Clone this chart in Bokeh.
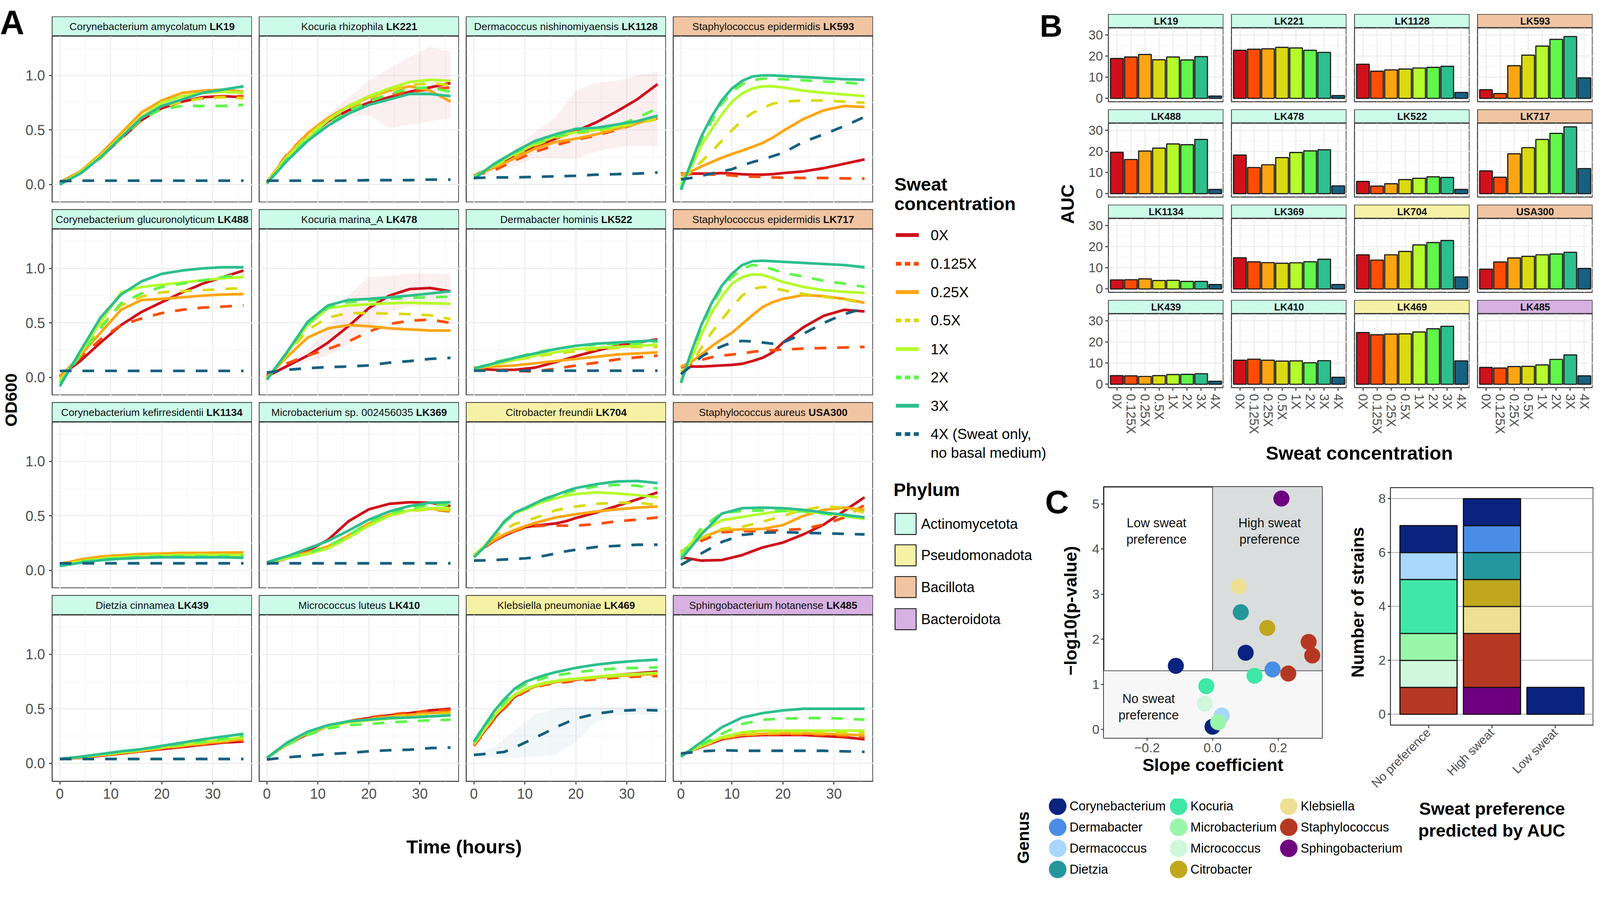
import math
from bokeh.plotting import figure
from bokeh.layouts import row, column
from bokeh.models import (Range1d, FactorRange, LinearAxis, CategoricalAxis, Grid,
                          FixedTicker, CategoricalTicker, BoxAnnotation, Span, Spacer,
                          CustomJSTickFormatter)
from bokeh.core.properties import value
from bokeh.embed import file_html
from bokeh.resources import INLINE

FONT = "Liberation Sans"
S = 0.9795          # global pixel scale (design units -> css px)

# ------------------------------------------------------------------ data
TIME_H = [0, 4, 8, 12, 16, 20, 24, 28, 32, 36]
TIME_FINE = [0, 2, 4, 6, 8, 10, 12, 14, 16, 18, 20, 24, 28, 32, 36]
CONC_LEVELS = ["0X", "0.125X", "0.25X", "0.5X", "1X", "2X", "3X", "4X"]
CONC_COLORS = ["#d0111b", "#ff4d04", "#ffa512", "#dada10", "#b4fc2c", "#60f64a", "#2dbf8e", "#176180"]
CONC_DASHED = [False, True, False, True, False, True, False, True]
CONC_LEGEND = ["0X", "0.125X", "0.25X", "0.5X", "1X", "2X", "3X", "4X (Sweat only,"]

PHYLA = ["Actinomycetota", "Pseudomonadota", "Bacillota", "Bacteroidota"]
PHYLUM_COLORS = ["#ccfbea", "#f6f2a5", "#f1c5a1", "#d6b1e2"]

STRAIN_IDS = ["LK19", "LK221", "LK1128", "LK593",
              "LK488", "LK478", "LK522", "LK717",
              "LK1134", "LK369", "LK704", "USA300",
              "LK439", "LK410", "LK469", "LK485"]
SPECIES_NAMES = ["Corynebacterium amycolatum", "Kocuria rhizophila", "Dermacoccus nishinomiyaensis", "Staphylococcus epidermidis",
                 "Corynebacterium glucuronolyticum", "Kocuria marina_A", "Dermabacter hominis", "Staphylococcus epidermidis",
                 "Corynebacterium kefirresidentii", "Microbacterium sp. 002456035", "Citrobacter freundii", "Staphylococcus aureus",
                 "Dietzia cinnamea", "Micrococcus luteus", "Klebsiella pneumoniae", "Sphingobacterium hotanense"]
STRAIN_PHYLUM = ["Actinomycetota", "Actinomycetota", "Actinomycetota", "Bacillota",
                 "Actinomycetota", "Actinomycetota", "Actinomycetota", "Bacillota",
                 "Actinomycetota", "Actinomycetota", "Pseudomonadota", "Bacillota",
                 "Actinomycetota", "Actinomycetota", "Pseudomonadota", "Bacteroidota"]

# OD600 growth curves, rows = 0X, 0.125X, 0.25X, 0.5X, 1X, 2X, 3X, 4X ; columns = TIME_H (or TIME_FINE)
OD_LK19 = [[0.02, 0.11, 0.25, 0.42, 0.59, 0.70, 0.76, 0.80, 0.81, 0.80],
           [0.02, 0.11, 0.25, 0.42, 0.59, 0.70, 0.76, 0.79, 0.81, 0.81],
           [0.02, 0.12, 0.28, 0.47, 0.66, 0.77, 0.84, 0.86, 0.87, 0.85],
           [0.01, 0.10, 0.24, 0.42, 0.60, 0.71, 0.76, 0.79, 0.80, 0.79],
           [0.00, 0.11, 0.26, 0.44, 0.62, 0.75, 0.81, 0.84, 0.85, 0.84],
           [0.01, 0.10, 0.25, 0.43, 0.60, 0.69, 0.72, 0.72, 0.72, 0.73],
           [0.00, 0.10, 0.25, 0.43, 0.61, 0.72, 0.78, 0.84, 0.87, 0.90],
           [0.03, 0.035, 0.035, 0.035, 0.035, 0.035, 0.035, 0.035, 0.035, 0.035]]
OD_LK221 = [[0.02, 0.26, 0.43, 0.58, 0.68, 0.75, 0.80, 0.85, 0.89, 0.93],
            [0.02, 0.28, 0.47, 0.61, 0.71, 0.77, 0.82, 0.85, 0.87, 0.89],
            [0.02, 0.27, 0.47, 0.61, 0.72, 0.80, 0.86, 0.90, 0.86, 0.76],
            [0.02, 0.26, 0.45, 0.60, 0.70, 0.79, 0.86, 0.91, 0.93, 0.91],
            [0.01, 0.25, 0.43, 0.59, 0.72, 0.81, 0.88, 0.94, 0.96, 0.95],
            [0.01, 0.24, 0.42, 0.56, 0.67, 0.76, 0.83, 0.88, 0.89, 0.85],
            [0.01, 0.22, 0.40, 0.54, 0.65, 0.73, 0.78, 0.83, 0.83, 0.81],
            [0.035, 0.035, 0.035, 0.035, 0.035, 0.04, 0.04, 0.04, 0.045, 0.045]]
OD_LK1128 = [[0.08, 0.17, 0.27, 0.35, 0.42, 0.49, 0.57, 0.67, 0.78, 0.92],
             [0.08, 0.13, 0.22, 0.30, 0.36, 0.41, 0.45, 0.50, 0.56, 0.61],
             [0.08, 0.155, 0.24, 0.33, 0.39, 0.42, 0.46, 0.51, 0.56, 0.62],
             [0.07, 0.17, 0.27, 0.36, 0.43, 0.47, 0.49, 0.52, 0.56, 0.60],
             [0.07, 0.18, 0.28, 0.37, 0.44, 0.48, 0.50, 0.53, 0.58, 0.63],
             [0.07, 0.18, 0.29, 0.38, 0.44, 0.48, 0.50, 0.54, 0.61, 0.70],
             [0.05, 0.19, 0.30, 0.40, 0.46, 0.51, 0.52, 0.55, 0.58, 0.63],
             [0.06, 0.065, 0.065, 0.07, 0.075, 0.08, 0.09, 0.095, 0.10, 0.11]]
OD_LK593 = [[0.10, 0.10, 0.10, 0.10, 0.105, 0.10, 0.094, 0.09, 0.09, 0.095, 0.105, 0.12, 0.15, 0.19, 0.23],
            [0.09, 0.095, 0.095, 0.092, 0.09, 0.083, 0.075, 0.072, 0.07, 0.065, 0.062, 0.06, 0.06, 0.056, 0.054],
            [0.09, 0.12, 0.165, 0.205, 0.245, 0.28, 0.31, 0.345, 0.38, 0.43, 0.49, 0.60, 0.68, 0.72, 0.71],
            [0.05, 0.12, 0.21, 0.30, 0.40, 0.495, 0.59, 0.655, 0.70, 0.74, 0.76, 0.77, 0.77, 0.76, 0.75],
            [0.00, 0.16, 0.36, 0.505, 0.64, 0.76, 0.835, 0.88, 0.90, 0.90, 0.89, 0.86, 0.84, 0.825, 0.81],
            [-0.03, 0.18, 0.41, 0.58, 0.74, 0.85, 0.92, 0.955, 0.97, 0.97, 0.965, 0.955, 0.945, 0.935, 0.92],
            [-0.05, 0.20, 0.44, 0.62, 0.77, 0.88, 0.95, 0.99, 1.00, 1.00, 0.995, 0.985, 0.975, 0.965, 0.96],
            [0.047, 0.06, 0.08, 0.10, 0.12, 0.14, 0.175, 0.205, 0.23, 0.26, 0.29, 0.39, 0.46, 0.535, 0.62]]
OD_LK488 = [[0.01, 0.15, 0.32, 0.48, 0.60, 0.69, 0.78, 0.86, 0.92, 0.98],
            [0.01, 0.18, 0.35, 0.48, 0.54, 0.59, 0.62, 0.64, 0.65, 0.66],
            [0.00, 0.20, 0.41, 0.62, 0.71, 0.72, 0.735, 0.75, 0.76, 0.765],
            [-0.03, 0.21, 0.47, 0.66, 0.74, 0.78, 0.79, 0.80, 0.81, 0.82],
            [-0.05, 0.22, 0.51, 0.78, 0.83, 0.85, 0.87, 0.89, 0.91, 0.92],
            [-0.05, 0.20, 0.45, 0.68, 0.77, 0.83, 0.86, 0.89, 0.92, 0.95],
            [-0.08, 0.24, 0.55, 0.76, 0.88, 0.95, 0.98, 1.00, 1.01, 1.01],
            [0.06, 0.06, 0.06, 0.06, 0.06, 0.06, 0.06, 0.06, 0.06, 0.06]]
OD_LK478 = [[0.01, 0.105, 0.20, 0.32, 0.47, 0.635, 0.75, 0.81, 0.82, 0.79],
            [0.02, 0.13, 0.20, 0.26, 0.33, 0.42, 0.49, 0.52, 0.53, 0.50],
            [0.00, 0.19, 0.365, 0.45, 0.48, 0.47, 0.45, 0.44, 0.43, 0.43],
            [-0.01, 0.21, 0.435, 0.55, 0.59, 0.59, 0.585, 0.58, 0.57, 0.535],
            [-0.02, 0.23, 0.48, 0.635, 0.66, 0.67, 0.68, 0.685, 0.68, 0.675],
            [-0.02, 0.23, 0.49, 0.64, 0.69, 0.705, 0.72, 0.73, 0.735, 0.74],
            [-0.02, 0.235, 0.51, 0.66, 0.71, 0.72, 0.735, 0.75, 0.77, 0.79],
            [0.045, 0.07, 0.085, 0.095, 0.10, 0.11, 0.135, 0.15, 0.17, 0.18]]
OD_LK522 = [[0.08, 0.07, 0.07, 0.09, 0.14, 0.195, 0.245, 0.29, 0.32, 0.35],
            [0.08, 0.07, 0.06, 0.055, 0.08, 0.11, 0.135, 0.165, 0.185, 0.20],
            [0.09, 0.10, 0.11, 0.13, 0.15, 0.17, 0.19, 0.21, 0.22, 0.23],
            [0.08, 0.12, 0.16, 0.19, 0.22, 0.24, 0.26, 0.27, 0.28, 0.28],
            [0.08, 0.12, 0.16, 0.20, 0.23, 0.26, 0.27, 0.28, 0.29, 0.30],
            [0.08, 0.14, 0.18, 0.23, 0.26, 0.29, 0.30, 0.31, 0.31, 0.33],
            [0.08, 0.13, 0.18, 0.22, 0.26, 0.29, 0.31, 0.32, 0.33, 0.34],
            [0.062, 0.062, 0.062, 0.062, 0.062, 0.062, 0.062, 0.062, 0.062, 0.062]]
OD_LK717 = [[0.10, 0.10, 0.10, 0.105, 0.11, 0.115, 0.125, 0.15, 0.18, 0.23, 0.32, 0.46, 0.565, 0.62, 0.605],
            [0.09, 0.125, 0.16, 0.185, 0.20, 0.21, 0.22, 0.235, 0.245, 0.25, 0.255, 0.265, 0.27, 0.275, 0.28],
            [0.10, 0.14, 0.21, 0.285, 0.35, 0.41, 0.49, 0.57, 0.645, 0.69, 0.72, 0.755, 0.745, 0.72, 0.685],
            [0.05, 0.13, 0.27, 0.41, 0.53, 0.645, 0.75, 0.81, 0.83, 0.82, 0.80, 0.765, 0.74, 0.715, 0.68],
            [-0.03, 0.17, 0.39, 0.59, 0.74, 0.86, 0.92, 0.945, 0.94, 0.91, 0.875, 0.83, 0.80, 0.785, 0.775],
            [-0.05, 0.22, 0.46, 0.66, 0.815, 0.92, 1.00, 1.03, 1.02, 0.99, 0.96, 0.925, 0.885, 0.86, 0.83],
            [-0.05, 0.23, 0.48, 0.68, 0.84, 0.95, 1.03, 1.065, 1.07, 1.065, 1.06, 1.05, 1.04, 1.03, 1.01],
            [0.03, 0.105, 0.19, 0.245, 0.285, 0.32, 0.335, 0.33, 0.32, 0.31, 0.32, 0.40, 0.50, 0.58, 0.635]]
OD_LK1134 = [[0.06, 0.09, 0.115, 0.13, 0.14, 0.145, 0.15, 0.15, 0.15, 0.15],
             [0.06, 0.09, 0.11, 0.125, 0.135, 0.14, 0.145, 0.145, 0.145, 0.145],
             [0.056, 0.10, 0.127, 0.14, 0.15, 0.155, 0.16, 0.16, 0.163, 0.165],
             [0.05, 0.085, 0.11, 0.125, 0.135, 0.14, 0.14, 0.145, 0.145, 0.145],
             [0.05, 0.08, 0.105, 0.12, 0.13, 0.135, 0.14, 0.14, 0.14, 0.14],
             [0.05, 0.08, 0.10, 0.115, 0.125, 0.13, 0.13, 0.13, 0.13, 0.13],
             [0.04, 0.07, 0.093, 0.107, 0.115, 0.12, 0.12, 0.12, 0.12, 0.115],
             [0.065, 0.065, 0.065, 0.065, 0.065, 0.065, 0.065, 0.065, 0.065, 0.065]]
OD_LK369 = [[0.06, 0.11, 0.18, 0.28, 0.45, 0.56, 0.61, 0.625, 0.62, 0.59],
            [0.07, 0.12, 0.16, 0.22, 0.32, 0.43, 0.51, 0.55, 0.56, 0.54],
            [0.07, 0.12, 0.165, 0.22, 0.32, 0.43, 0.51, 0.55, 0.565, 0.55],
            [0.07, 0.115, 0.155, 0.21, 0.31, 0.42, 0.50, 0.545, 0.56, 0.55],
            [0.07, 0.11, 0.15, 0.20, 0.30, 0.41, 0.50, 0.55, 0.57, 0.57],
            [0.07, 0.12, 0.16, 0.22, 0.32, 0.44, 0.52, 0.57, 0.60, 0.60],
            [0.075, 0.13, 0.20, 0.27, 0.365, 0.465, 0.54, 0.59, 0.62, 0.625],
            [0.065, 0.065, 0.065, 0.065, 0.065, 0.065, 0.065, 0.065, 0.065, 0.065]]
OD_LK704 = [[0.13, 0.21, 0.27, 0.32, 0.36, 0.395, 0.41, 0.42, 0.43, 0.45, 0.48, 0.53, 0.59, 0.65, 0.715],
            [0.13, 0.21, 0.27, 0.32, 0.36, 0.39, 0.405, 0.41, 0.41, 0.41, 0.41, 0.425, 0.45, 0.465, 0.485],
            [0.14, 0.215, 0.28, 0.33, 0.37, 0.405, 0.435, 0.46, 0.485, 0.50, 0.515, 0.54, 0.56, 0.575, 0.585],
            [0.14, 0.22, 0.31, 0.37, 0.425, 0.455, 0.48, 0.515, 0.55, 0.57, 0.585, 0.61, 0.62, 0.62, 0.60],
            [0.13, 0.22, 0.33, 0.44, 0.52, 0.56, 0.60, 0.635, 0.66, 0.685, 0.70, 0.715, 0.705, 0.69, 0.67],
            [0.12, 0.21, 0.33, 0.44, 0.52, 0.565, 0.605, 0.645, 0.675, 0.71, 0.735, 0.77, 0.785, 0.775, 0.75],
            [0.12, 0.21, 0.33, 0.45, 0.53, 0.57, 0.615, 0.66, 0.69, 0.725, 0.755, 0.79, 0.815, 0.82, 0.80],
            [0.09, 0.092, 0.095, 0.10, 0.105, 0.11, 0.12, 0.135, 0.155, 0.175, 0.19, 0.215, 0.225, 0.235, 0.235]]
OD_USA300 = [[0.12, 0.09, 0.095, 0.14, 0.21, 0.255, 0.33, 0.42, 0.545, 0.67],
             [0.16, 0.27, 0.35, 0.36, 0.36, 0.37, 0.38, 0.42, 0.485, 0.60],
             [0.17, 0.30, 0.37, 0.375, 0.38, 0.415, 0.50, 0.555, 0.575, 0.555],
             [0.16, 0.30, 0.38, 0.40, 0.445, 0.50, 0.555, 0.585, 0.575, 0.53],
             [0.15, 0.355, 0.46, 0.49, 0.52, 0.545, 0.54, 0.525, 0.50, 0.47],
             [0.13, 0.39, 0.525, 0.545, 0.55, 0.545, 0.54, 0.52, 0.50, 0.48],
             [0.10, 0.33, 0.52, 0.57, 0.575, 0.57, 0.555, 0.53, 0.51, 0.485],
             [0.05, 0.155, 0.26, 0.325, 0.345, 0.35, 0.345, 0.34, 0.335, 0.33]]
OD_LK439 = [[0.04, 0.05, 0.07, 0.09, 0.11, 0.13, 0.15, 0.17, 0.19, 0.20],
            [0.04, 0.05, 0.07, 0.09, 0.11, 0.135, 0.155, 0.175, 0.195, 0.21],
            [0.04, 0.055, 0.075, 0.095, 0.115, 0.14, 0.16, 0.18, 0.20, 0.22],
            [0.04, 0.055, 0.075, 0.10, 0.12, 0.145, 0.165, 0.19, 0.21, 0.23],
            [0.04, 0.055, 0.08, 0.10, 0.125, 0.15, 0.17, 0.195, 0.215, 0.24],
            [0.04, 0.06, 0.08, 0.105, 0.125, 0.15, 0.175, 0.20, 0.225, 0.25],
            [0.04, 0.06, 0.085, 0.11, 0.13, 0.16, 0.19, 0.22, 0.245, 0.27],
            [0.04, 0.04, 0.04, 0.04, 0.04, 0.04, 0.04, 0.04, 0.04, 0.04]]
OD_LK410 = [[0.05, 0.175, 0.27, 0.34, 0.385, 0.415, 0.44, 0.46, 0.485, 0.50],
            [0.05, 0.17, 0.27, 0.335, 0.385, 0.42, 0.445, 0.465, 0.48, 0.49],
            [0.05, 0.18, 0.28, 0.34, 0.38, 0.405, 0.43, 0.445, 0.46, 0.47],
            [0.05, 0.18, 0.28, 0.34, 0.375, 0.40, 0.42, 0.435, 0.445, 0.455],
            [0.05, 0.18, 0.28, 0.34, 0.375, 0.395, 0.41, 0.42, 0.43, 0.44],
            [0.05, 0.17, 0.26, 0.32, 0.35, 0.36, 0.375, 0.385, 0.395, 0.40],
            [0.05, 0.19, 0.29, 0.35, 0.385, 0.40, 0.415, 0.42, 0.43, 0.44],
            [0.035, 0.055, 0.07, 0.085, 0.095, 0.11, 0.12, 0.125, 0.14, 0.145]]
OD_LK469 = [[0.17, 0.29, 0.415, 0.515, 0.61, 0.665, 0.705, 0.73, 0.745, 0.76, 0.765, 0.79, 0.81, 0.825, 0.84],
            [0.16, 0.28, 0.405, 0.505, 0.60, 0.655, 0.695, 0.72, 0.735, 0.745, 0.755, 0.77, 0.785, 0.795, 0.80],
            [0.17, 0.30, 0.43, 0.53, 0.62, 0.67, 0.705, 0.73, 0.745, 0.76, 0.77, 0.785, 0.80, 0.81, 0.82],
            [0.18, 0.31, 0.435, 0.535, 0.625, 0.675, 0.71, 0.735, 0.75, 0.765, 0.775, 0.79, 0.80, 0.815, 0.825],
            [0.18, 0.31, 0.44, 0.54, 0.63, 0.68, 0.715, 0.74, 0.755, 0.77, 0.775, 0.795, 0.81, 0.82, 0.83],
            [0.19, 0.32, 0.45, 0.56, 0.665, 0.72, 0.755, 0.785, 0.805, 0.82, 0.835, 0.855, 0.87, 0.875, 0.88],
            [0.20, 0.34, 0.48, 0.59, 0.685, 0.745, 0.78, 0.81, 0.835, 0.855, 0.875, 0.905, 0.925, 0.94, 0.95],
            [0.077, 0.085, 0.095, 0.105, 0.145, 0.19, 0.235, 0.28, 0.33, 0.37, 0.41, 0.455, 0.48, 0.49, 0.485]]
OD_LK485 = [[0.08, 0.15, 0.22, 0.25, 0.26, 0.26, 0.26, 0.25, 0.24, 0.22],
            [0.08, 0.15, 0.22, 0.255, 0.265, 0.265, 0.265, 0.26, 0.25, 0.24],
            [0.08, 0.155, 0.23, 0.26, 0.27, 0.275, 0.275, 0.27, 0.265, 0.255],
            [0.08, 0.16, 0.235, 0.27, 0.28, 0.285, 0.285, 0.285, 0.28, 0.28],
            [0.07, 0.16, 0.24, 0.285, 0.30, 0.30, 0.30, 0.30, 0.30, 0.30],
            [0.07, 0.17, 0.27, 0.36, 0.40, 0.41, 0.415, 0.415, 0.41, 0.40],
            [0.06, 0.195, 0.33, 0.42, 0.46, 0.485, 0.50, 0.50, 0.50, 0.50],
            [0.09, 0.11, 0.12, 0.115, 0.115, 0.115, 0.115, 0.115, 0.11, 0.105]]
FINE_STRAINS = ["LK593", "LK717", "LK704", "LK469"]

# confidence ribbons (lower, upper) on TIME_H for the most visible replicate spreads
RIB_LK221_0X = ([0.00, 0.22, 0.38, 0.52, 0.62, 0.64, 0.52, 0.55, 0.58, 0.61],
                [0.04, 0.30, 0.48, 0.64, 0.80, 0.95, 1.06, 1.17, 1.26, 1.22])
RIB_LK1128_0X = ([0.07, 0.12, 0.17, 0.24, 0.24, 0.235, 0.30, 0.34, 0.36, 0.35],
                 [0.09, 0.20, 0.32, 0.48, 0.62, 0.86, 0.93, 0.95, 1.00, 1.03])
RIB_LK478_0X = ([0.00, 0.08, 0.15, 0.20, 0.30, 0.45, 0.60, 0.65, 0.66, 0.62],
                [0.03, 0.13, 0.25, 0.45, 0.75, 0.92, 0.93, 0.95, 0.95, 0.95])
RIB_LK469_4X = ([0.06, 0.05, 0.05, 0.06, 0.08, 0.20, 0.38, 0.44, 0.45, 0.45],
                [0.09, 0.15, 0.30, 0.45, 0.50, 0.52, 0.52, 0.52, 0.52, 0.52])
RIBBONS = {"LK221": [(0, RIB_LK221_0X)], "LK1128": [(0, RIB_LK1128_0X)],
           "LK478": [(0, RIB_LK478_0X)], "LK469": [(7, RIB_LK469_4X)]}

# AUC per sweat concentration (CONC_LEVELS order)
AUC_LK19 = [18.9, 19.6, 20.8, 18.3, 19.6, 18.2, 19.8, 1.1]
AUC_LK221 = [22.8, 23.3, 23.5, 24.2, 23.9, 22.8, 21.8, 1.3]
AUC_LK1128 = [16.2, 12.9, 13.5, 13.9, 14.4, 14.7, 15.2, 2.8]
AUC_LK593 = [4.1, 2.3, 15.5, 20.5, 24.8, 28.0, 29.3, 9.7]
AUC_LK488 = [19.6, 16.2, 20.2, 21.6, 23.6, 23.2, 25.7, 2.0]
AUC_LK478 = [18.3, 12.4, 13.7, 17.1, 19.5, 20.3, 20.8, 3.7]
AUC_LK522 = [5.8, 3.6, 4.7, 6.7, 7.3, 8.0, 7.7, 2.0]
AUC_LK717 = [10.8, 7.8, 18.9, 21.8, 25.7, 28.6, 31.7, 11.9]
AUC_LK1134 = [4.3, 4.4, 4.8, 4.0, 4.1, 3.6, 3.6, 2.1]
AUC_LK369 = [14.8, 12.9, 12.5, 12.2, 12.4, 12.9, 14.1, 2.1]
AUC_LK704 = [16.2, 13.7, 16.2, 17.8, 20.9, 22.0, 23.0, 5.7]
AUC_USA300 = [9.4, 12.8, 14.7, 15.5, 16.2, 16.6, 17.4, 9.7]
AUC_LK439 = [4.1, 4.0, 3.7, 4.1, 4.6, 4.7, 5.0, 1.4]
AUC_LK410 = [11.4, 11.9, 11.4, 11.0, 11.1, 10.2, 11.2, 3.3]
AUC_LK469 = [24.5, 23.5, 23.8, 23.9, 24.8, 26.3, 27.5, 11.1]
AUC_LK485 = [8.0, 7.7, 8.4, 8.5, 9.2, 11.8, 13.9, 4.0]

# Panel C
GENERA = ["Corynebacterium", "Dermabacter", "Dermacoccus", "Dietzia", "Kocuria", "Microbacterium",
          "Micrococcus", "Citrobacter", "Klebsiella", "Staphylococcus", "Sphingobacterium"]
GENUS_COLORS = ["#0a237f", "#4a8de6", "#a9d7fd", "#24979c", "#3fe8a7", "#99f7a9",
                "#cff7dc", "#c0a71e", "#ede095", "#b63822", "#6e0080"]
SC_STRAIN = ["LK19", "LK1128", "LK369", "LK410", "LK221", "LK1134", "LK478", "USA300",
             "LK522", "LK488", "LK717", "LK593", "LK704", "LK439", "LK469", "LK485"]
SC_SLOPE = [0.000, 0.028, 0.017, -0.024, -0.019, -0.112, 0.128, 0.231,
            0.183, 0.101, 0.293, 0.304, 0.167, 0.086, 0.080, 0.210]
SC_NLOGP = [0.06, 0.31, 0.16, 0.57, 0.96, 1.41, 1.19, 1.24,
            1.33, 1.70, 1.94, 1.64, 2.25, 2.60, 3.17, 5.12]
SC_GENUS = ["Corynebacterium", "Dermacoccus", "Microbacterium", "Micrococcus", "Kocuria", "Corynebacterium",
            "Kocuria", "Staphylococcus", "Dermabacter", "Corynebacterium", "Staphylococcus", "Staphylococcus",
            "Citrobacter", "Dietzia", "Klebsiella", "Sphingobacterium"]
P_THRESH = -math.log10(0.05)
PREF_CATS = ["No preference", "High sweat", "Low sweat"]

OD_DATA = dict(zip(STRAIN_IDS, [OD_LK19, OD_LK221, OD_LK1128, OD_LK593, OD_LK488, OD_LK478, OD_LK522, OD_LK717,
                                OD_LK1134, OD_LK369, OD_LK704, OD_USA300, OD_LK439, OD_LK410, OD_LK469, OD_LK485]))
AUC_DATA = dict(zip(STRAIN_IDS, [AUC_LK19, AUC_LK221, AUC_LK1128, AUC_LK593, AUC_LK488, AUC_LK478, AUC_LK522, AUC_LK717,
                                 AUC_LK1134, AUC_LK369, AUC_LK704, AUC_USA300, AUC_LK439, AUC_LK410, AUC_LK469, AUC_LK485]))

# ------------------------------------------------------------------ helpers
HELV_REG = {' ': 278, '(': 333, ')': 333, ',': 278, '-': 333, '.': 278, '_': 556,
            'A': 667, 'B': 667, 'C': 722, 'D': 722, 'E': 667, 'F': 611, 'G': 778, 'H': 722, 'I': 278,
            'J': 500, 'K': 667, 'L': 556, 'M': 833, 'N': 722, 'O': 778, 'P': 667, 'Q': 778, 'R': 722,
            'S': 667, 'T': 611, 'U': 722, 'V': 667, 'W': 944, 'X': 667, 'Y': 667, 'Z': 611,
            'a': 556, 'b': 556, 'c': 500, 'd': 556, 'e': 556, 'f': 278, 'g': 556, 'h': 556, 'i': 222,
            'j': 222, 'k': 500, 'l': 222, 'm': 833, 'n': 556, 'o': 556, 'p': 556, 'q': 556, 'r': 333,
            's': 500, 't': 278, 'u': 556, 'v': 500, 'w': 722, 'x': 500, 'y': 500, 'z': 500}
HELV_BOLD = {'A': 722, 'K': 722, 'L': 611, 'S': 667, 'U': 722, ' ': 278}


def P(v):
    return int(round(v * S))


def FS(v):
    return f"{v * S:.2f}px"


def text_w(s, size, bold=False):
    tot = 0
    for ch in s:
        if ch.isdigit():
            tot += 556
        elif bold:
            tot += HELV_BOLD.get(ch, 611)
        else:
            tot += HELV_REG.get(ch, 556)
    return tot * size / 1000.0


def base_fig(w, h, xr, yr, lb=0, rb=0, tb=0, bb=0):
    p = figure(width=P(w), height=P(h), x_range=xr, y_range=yr, x_axis_type=None, y_axis_type=None,
               title=None, toolbar_location=None, output_backend="svg",
               min_border_left=P(lb), min_border_right=P(rb), min_border_top=P(tb), min_border_bottom=P(bb))
    p.outline_line_color = None
    p.background_fill_color = "white"
    p.border_fill_color = "white"
    return p


def canvas(w, h):
    return base_fig(w, h, Range1d(0, w), Range1d(0, h))


def put_text(p, h, x, y_top, s, size, bold=False, align="left", baseline="middle", angle=0.0,
             color="#000000"):
    p.text(x=[x], y=[h - y_top], text=[s], text_font=value(FONT), text_font_size=FS(size),
           text_font_style="bold" if bold else "normal", text_align=align, text_baseline=baseline,
           angle=angle, text_color=color)


def axis_style(size, tick_out, standoff):
    return dict(axis_line_color=None, major_tick_line_color="#333333", major_tick_line_width=2.5 * S,
                major_tick_out=P(tick_out), major_tick_in=0, minor_tick_line_color=None,
                major_label_text_font=FONT, major_label_text_font_size=FS(size),
                major_label_text_color="#4d4d4d", major_label_standoff=P(standoff))


GRID_STYLE = dict(grid_line_color="#ebebeb", grid_line_width=2.5 * S,
                  minor_grid_line_color="#f3f3f3", minor_grid_line_width=1.5 * S)


def strip_fig(lb, tb, fw, sh, species, strain, fill, size):
    p = base_fig(lb + fw, tb + sh, Range1d(0, fw), Range1d(0, sh), lb=lb, tb=tb)
    p.background_fill_color = fill
    p.outline_line_color = "#333333"
    p.outline_line_width = 2 * S
    common = dict(text_font=value(FONT), text_font_size=FS(size), text_baseline="middle", text_color="#111111")
    if species:
        gap = 0.278 * size
        w1 = text_w(species, size)
        w2 = text_w(strain, size, True)
        split = fw / 2 - (w1 + gap + w2) / 2 + w1
        p.text(x=[split], y=[sh / 2], text=[species], text_align="right", **common)
        p.text(x=[split + gap], y=[sh / 2], text=[strain], text_font_style="bold", text_align="left", **common)
    else:
        p.text(x=[fw / 2], y=[sh / 2], text=[strain], text_font_style="bold", text_align="center", **common)
    return p


# ------------------------------------------------------------------ layout constants (design px)
PAGE_H = 2296
A_LEFT_W, A_LB, A_FW, A_GAP, A_FH, A_SH, A_TOP, A_BB = 62, 73, 523, 18, 435, 51, 43, 80
A_GRID_W = A_LB + A_FW + 3 * (A_GAP + A_FW)
A_TITLE_H = PAGE_H - (A_TOP + A_SH + A_FH + 3 * (A_GAP + A_SH + A_FH) + A_BB)

LEG_W = 545
B_LB, B_FW, B_GAP, B_FH, B_SH, B_TOP, B_BB = 69, 302, 20, 193, 36, 37, 140
B_GRID_W = B_LB + B_FW + 3 * (B_GAP + B_FW)
R_UP_H = 1225
B_TITLE_H = R_UP_H - (B_TOP + 4 * (B_SH + B_FH) + 3 * B_GAP + B_BB)

C_TOP_H = 862
C_BOT_H = PAGE_H - R_UP_H - C_TOP_H

LINE_W = 7 * S
DASH = f"{P(31)} {P(29)}"


# ------------------------------------------------------------------ panel A
def a_frame(strain, col, rw):
    lb = A_LB if col == 0 else A_GAP
    bb = A_BB if rw == 3 else 0
    p = base_fig(lb + A_FW, A_FH + bb, Range1d(-1.5, 37.7), Range1d(-0.165, 1.36), lb=lb, bb=bb)
    p.outline_line_color = "#333333"
    p.outline_line_width = 2.5 * S
    p.add_layout(Grid(dimension=0, ticker=FixedTicker(ticks=[0, 10, 20, 30], minor_ticks=[5, 15, 25, 35]), **GRID_STYLE))
    p.add_layout(Grid(dimension=1, ticker=FixedTicker(ticks=[0, 0.5, 1.0], minor_ticks=[0.25, 0.75, 1.25]), **GRID_STYLE))
    if col == 0:
        p.add_layout(LinearAxis(ticker=FixedTicker(ticks=[0, 0.5, 1.0]),
                                formatter=CustomJSTickFormatter(code="return tick.toFixed(1);"),
                                **axis_style(37, 8, 10)), "left")
    if rw == 3:
        p.add_layout(LinearAxis(ticker=FixedTicker(ticks=[0, 10, 20, 30]), **axis_style(37, 8, 10)), "below")
    for k, (lo, hi) in RIBBONS.get(strain, []):
        p.varea(x=TIME_H, y1=lo, y2=hi, fill_color=CONC_COLORS[k], fill_alpha=0.065 if k == 0 else 0.06)
    tt = TIME_FINE if strain in FINE_STRAINS else TIME_H
    curves = OD_DATA[strain]
    for k in range(len(CONC_LEVELS)):
        p.line(tt, curves[k], line_color=CONC_COLORS[k], line_width=LINE_W,
               line_dash=DASH if CONC_DASHED[k] else "solid", line_join="round")
    return p


a_rows = []
for r in range(4):
    cells = []
    for c in range(4):
        i = r * 4 + c
        lb = A_LB if c == 0 else A_GAP
        tb = 0 if r == 0 else A_GAP
        fill = PHYLUM_COLORS[PHYLA.index(STRAIN_PHYLUM[i])]
        s = strip_fig(lb, tb, A_FW, A_SH, SPECIES_NAMES[i], STRAIN_IDS[i], fill, 27)
        f = a_frame(STRAIN_IDS[i], c, r)
        cells.append(column(s, f))
    a_rows.append(row(*cells))

a_title = canvas(A_GRID_W, A_TITLE_H)
put_text(a_title, A_TITLE_H, 1150, 92, "Time (hours)", 50, bold=True, align="center")
a_grid = column(Spacer(width=P(A_GRID_W), height=P(A_TOP)), *a_rows, a_title)

a_left = canvas(A_LEFT_W, PAGE_H)
put_text(a_left, PAGE_H, 31, 58, "A", 88, bold=True, align="center", baseline="alphabetic")
put_text(a_left, PAGE_H, 28, 1045, "OD600", 44, bold=True, align="center", angle=math.pi / 2)
a_block = row(a_left, a_grid)

# ------------------------------------------------------------------ sweat legend (+ B letter, AUC label)
leg = canvas(LEG_W, R_UP_H)
put_text(leg, R_UP_H, 55, 481, "Sweat", 48, bold=True)
put_text(leg, R_UP_H, 55, 532, "concentration", 48, bold=True)
leg_y = [614, 689, 763, 837, 912, 986, 1060, 1134]
for k in range(len(CONC_LEVELS)):
    yy = R_UP_H - leg_y[k]
    leg.line([59, 119], [yy, yy], line_color=CONC_COLORS[k], line_width=10 * S,
             line_dash=f"{P(14)} {P(9)}" if CONC_DASHED[k] else "solid")
    put_text(leg, R_UP_H, 150, leg_y[k], CONC_LEGEND[k], 38)
put_text(leg, R_UP_H, 150, 1183, "no basal medium)", 38)
put_text(leg, R_UP_H, 435, 67, "B", 82, bold=True, baseline="alphabetic")
put_text(leg, R_UP_H, 507, 533, "AUC", 48, bold=True, align="center", angle=math.pi / 2)


# ------------------------------------------------------------------ panel B
def b_frame(strain, col, rw):
    lb = B_LB if col == 0 else B_GAP
    bb = B_BB if rw == 3 else B_GAP
    p = base_fig(lb + B_FW, B_FH + bb, FactorRange(factors=CONC_LEVELS, range_padding=0.025),
                 Range1d(-1.6, 33.4), lb=lb, bb=bb)
    p.outline_line_color = "#333333"
    p.outline_line_width = 2.5 * S
    p.add_layout(Grid(dimension=0, ticker=CategoricalTicker(), grid_line_color="#ebebeb", grid_line_width=2.5 * S))
    p.add_layout(Grid(dimension=1, ticker=FixedTicker(ticks=[0, 10, 20, 30], minor_ticks=[5, 15, 25]), **GRID_STYLE))
    if col == 0:
        p.add_layout(LinearAxis(ticker=FixedTicker(ticks=[0, 10, 20, 30]), **axis_style(34, 8, 6)), "left")
    if rw == 3:
        p.add_layout(CategoricalAxis(major_label_orientation="vertical", **axis_style(33, 8, 8)), "below")
    p.vbar(x=CONC_LEVELS, top=AUC_DATA[strain], bottom=0, width=0.9, fill_color=CONC_COLORS,
           line_color="#1a1a1a", line_width=3 * S)
    return p


b_rows = []
for r in range(4):
    cells = []
    for c in range(4):
        i = r * 4 + c
        lb = B_LB if c == 0 else B_GAP
        fill = PHYLUM_COLORS[PHYLA.index(STRAIN_PHYLUM[i])]
        s = strip_fig(lb, 0, B_FW, B_SH, "", STRAIN_IDS[i], fill, 26)
        f = b_frame(STRAIN_IDS[i], c, r)
        cells.append(column(s, f))
    b_rows.append(row(*cells))
b_title = canvas(B_GRID_W, B_TITLE_H)
put_text(b_title, B_TITLE_H, 3551 - 2281 - LEG_W, 31, "Sweat concentration", 50, bold=True, align="center")
b_block = column(Spacer(width=P(B_GRID_W), height=P(B_TOP)), *b_rows, b_title)

r_upper = row(leg, b_block)

# ------------------------------------------------------------------ panel C: phylum legend, C letter
PHY_W = 549
phy = canvas(PHY_W, C_TOP_H)
put_text(phy, C_TOP_H, 53, 54, "Phylum", 48, bold=True)
phy_y = [144, 226, 309, 393]
phy.rect(x=[84.5] * 4, y=[C_TOP_H - v for v in phy_y], width=55, height=55,
         fill_color=PHYLUM_COLORS, line_color="#222222", line_width=2.5 * S)
for k, name in enumerate(PHYLA):
    put_text(phy, C_TOP_H, 125, phy_y[k], name, 37)
put_text(phy, C_TOP_H, 449, 86, "C", 86, bold=True, baseline="alphabetic")
put_text(phy, C_TOP_H, 515, 371, "\u2212log10(p-value)", 46, bold=True, align="center", angle=math.pi / 2)

# scatter
SC_W = 690
sc = base_fig(SC_W, C_TOP_H, Range1d(-0.332, 0.334), Range1d(-0.19, 5.38), lb=53, rb=66, tb=47,
              bb=C_TOP_H - 47 - 657)
sc.outline_line_color = "#222222"
sc.outline_line_width = 3 * S
sc.add_layout(BoxAnnotation(top=P_THRESH, fill_color="#f7f7f7", fill_alpha=1.0, line_color=None, level="underlay"))
sc.add_layout(BoxAnnotation(left=0, bottom=P_THRESH, fill_color="#d9dddd", fill_alpha=1.0, line_color=None, level="underlay"))
sc.add_layout(Span(location=P_THRESH, dimension="width", line_color="#666666", line_width=2.5 * S, level="underlay"))
sc.segment(x0=[0.0], y0=[P_THRESH], x1=[0.0], y1=[sc.y_range.end], line_color="#666666", line_width=2.5 * S)
sc.scatter(x=SC_SLOPE, y=SC_NLOGP, size=42 * S, fill_color=[GENUS_COLORS[GENERA.index(g)] for g in SC_GENUS],
           line_color=None)
for tx, ty, s in [(-0.171, 4.40, "Low sweat\npreference"), (0.174, 4.40, "High sweat\npreference"),
                  (-0.195, 0.50, "No sweat\npreference")]:
    sc.text(x=[tx], y=[ty], text=[s], text_font=value(FONT), text_font_size=FS(33), text_align="center",
            text_baseline="middle", text_color="#111111", text_line_height=1.17)
sc.add_layout(LinearAxis(ticker=FixedTicker(ticks=[0, 1, 2, 3, 4, 5]), **axis_style(34, 7, 4)), "left")
sc.add_layout(LinearAxis(ticker=FixedTicker(ticks=[-0.2, 0.0, 0.2]),
                         formatter=CustomJSTickFormatter(code="return (tick < -1e-9 ? '\\u2212' : '') + Math.abs(tick).toFixed(1);"),
                         axis_label="Slope coefficient", axis_label_text_font=FONT,
                         axis_label_text_font_size=FS(46), axis_label_text_font_style="bold",
                         axis_label_text_color="#000000", axis_label_standoff=P(4),
                         **axis_style(34, 7, 6)), "below")

# y label for bar chart
NS_W = 55
ns = canvas(NS_W, C_TOP_H)
put_text(ns, C_TOP_H, 26, 349, "Number of strains", 46, bold=True, align="center", angle=math.pi / 2)

# stacked bars (counts derived from the scatter classification)
pref_of = []
for sl, nl in zip(SC_SLOPE, SC_NLOGP):
    if nl > P_THRESH and sl > 0:
        pref_of.append("High sweat")
    elif nl > P_THRESH and sl < 0:
        pref_of.append("Low sweat")
    else:
        pref_of.append("No preference")
BAR_W = 4163 - 2281 - PHY_W - SC_W - NS_W
bc = base_fig(BAR_W, C_TOP_H, FactorRange(factors=PREF_CATS, range_padding=0.0667), Range1d(-0.4, 8.41),
              lb=57, rb=0, tb=49, bb=192)
bc.outline_line_color = "#333333"
bc.outline_line_width = 2.5 * S
bc.add_layout(Grid(dimension=1, ticker=FixedTicker(ticks=[0, 2, 4, 6, 8]), grid_line_color="#8c8c8c",
                   grid_line_width=1.5 * S))
bx, bbot, btop, bcol = [], [], [], []
for cat in PREF_CATS:
    base = 0
    for g in reversed(GENERA):
        n = sum(1 for gg, pp in zip(SC_GENUS, pref_of) if gg == g and pp == cat)
        if n > 0:
            bx.append(cat)
            bbot.append(base)
            btop.append(base + n)
            bcol.append(GENUS_COLORS[GENERA.index(g)])
            base += n
bc.vbar(x=bx, bottom=bbot, top=btop, width=0.9, fill_color=bcol, line_color="#111111", line_width=3 * S)
bc.add_layout(LinearAxis(ticker=FixedTicker(ticks=[0, 2, 4, 6, 8]), **axis_style(34, 7, 5)), "left")
bc.add_layout(CategoricalAxis(major_label_orientation=math.pi / 4, **axis_style(32, 8, 6)), "below")

# each plot wrapped on its own so that the row does not align their frames
c_top = row(column(phy), column(sc), column(ns), column(bc))

# genus legend + bar title
GEN_W = 3700 - 2281
gen = canvas(GEN_W, C_BOT_H)
put_text(gen, C_BOT_H, 391, 102, "Genus", 44, bold=True, align="center", angle=math.pi / 2)
g_cols_x = [482, 798, 1086]
g_rows_y = [20, 75, 130, 185]
gx, gy = [], []
for k, g in enumerate(GENERA):
    cx = g_cols_x[k // 4]
    cy = g_rows_y[k % 4]
    gx.append(cx)
    gy.append(C_BOT_H - cy)
    put_text(gen, C_BOT_H, cx + 31, cy, g, 33)
gen.scatter(x=gx, y=gy, size=46 * S, fill_color=GENUS_COLORS, line_color=None)

BT_W = 4163 - 3700
bt = canvas(BT_W, C_BOT_H)
put_text(bt, C_BOT_H, 198, 27, "Sweat preference", 46, bold=True, align="center")
put_text(bt, C_BOT_H, 198, 84, "predicted by AUC", 46, bold=True, align="center")
c_bot = row(gen, bt)

right_block = column(r_upper, c_top, c_bot)
page = row(a_block, right_block)

open("out.html", "w").write(file_html(page, INLINE))
